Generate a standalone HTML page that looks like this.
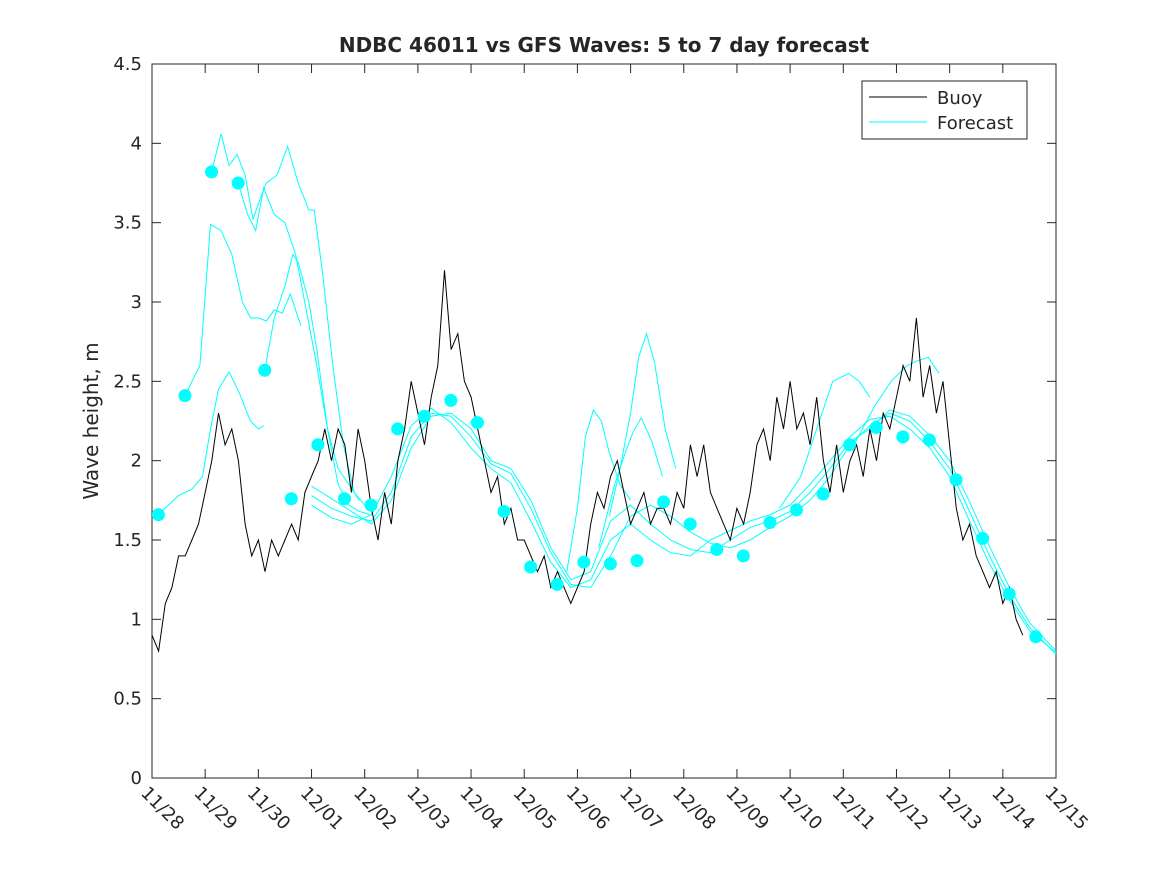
<!DOCTYPE html>
<html><head><meta charset="utf-8"><style>
body{margin:0;background:#fff;}
svg text{font-family:"DejaVu Sans","Liberation Sans",sans-serif;fill:#262626;}
</style></head><body>
<svg id="chart" width="1167" height="875" xmlns="http://www.w3.org/2000/svg">
<rect width="1167" height="875" fill="#fff"/>
<g id="plot"></g>
</svg>
<script>
const xTickLabels=["11/28","11/29","11/30","12/01","12/02","12/03","12/04","12/05","12/06","12/07","12/08","12/09","12/10","12/11","12/12","12/13","12/14","12/15"];
const yTicks=[0,0.5,1,1.5,2,2.5,3,3.5,4,4.5];
const buoyStep=0.125;
const buoyVals=[0.9,0.8,1.1,1.2,1.4,1.4,1.5,1.6,
1.8,2.0,2.3,2.1,2.2,2.0,1.6,1.4,
1.5,1.3,1.5,1.4,1.5,1.6,1.5,1.8,
1.9,2.0,2.2,2.0,2.2,2.1,1.8,2.2,
2.0,1.7,1.5,1.8,1.6,2.0,2.2,2.5,
2.3,2.1,2.4,2.6,3.2,2.7,2.8,2.5,
2.4,2.2,2.0,1.8,1.9,1.6,1.7,1.5,
1.5,1.4,1.3,1.4,1.2,1.3,1.2,1.1,
1.2,1.3,1.6,1.8,1.7,1.9,2.0,1.8,
1.6,1.7,1.8,1.6,1.7,1.7,1.6,1.8,
1.7,2.1,1.9,2.1,1.8,1.7,1.6,1.5,
1.7,1.6,1.8,2.1,2.2,2.0,2.4,2.2,
2.5,2.2,2.3,2.1,2.4,2.0,1.8,2.1,
1.8,2.0,2.1,1.9,2.2,2.0,2.3,2.2,
2.4,2.6,2.5,2.9,2.4,2.6,2.3,2.5,
2.1,1.7,1.5,1.6,1.4,1.3,1.2,1.3,
1.1,1.2,1.0,0.9];
const dotDays=[0.12,0.62,1.12,1.62,2.12,2.62,3.12,3.62,4.12,4.62,5.12,5.62,6.12,6.62,7.12,7.62,8.12,8.62,9.12,9.62,10.12,10.62,11.12,11.62,12.12,12.62,13.12,13.62,14.12,14.62,15.12,15.62,16.12,16.62];
const dotVals=[1.66,2.41,3.82,3.75,2.57,1.76,2.1,1.76,1.72,2.2,2.28,2.38,2.24,1.68,1.33,1.22,1.36,1.35,1.37,1.74,1.6,1.44,1.40,1.61,1.69,1.79,2.1,2.21,2.15,2.13,1.88,1.51,1.16,0.89];
const fcA_d=[0.12,0.5,0.75,0.95,1.1,1.25,1.45,1.65,1.85,2.0,2.1];
const fcA_v=[1.66,1.78,1.82,1.9,2.2,2.45,2.56,2.42,2.25,2.2,2.22];
const fcB_d=[0.62,0.9,1.1,1.3,1.5,1.7,1.85,2.0,2.15,2.3,2.45,2.6,2.8];
const fcB_v=[2.41,2.6,3.49,3.45,3.3,3.0,2.9,2.9,2.88,2.95,2.93,3.05,2.85];
const fcC_d=[1.12,1.3,1.45,1.6,1.75,1.9,2.0,2.15,2.35,2.55,2.75,2.95,3.05,3.2,3.4,3.6,3.8,4.0];
const fcC_v=[3.82,4.06,3.86,3.93,3.8,3.52,3.62,3.75,3.8,3.98,3.75,3.58,3.58,3.2,2.6,2.1,1.8,1.72];
const fcD_d=[1.62,1.8,1.95,2.1,2.3,2.5,2.7,2.9,3.1,3.3,3.5,3.7,3.9];
const fcD_v=[3.75,3.55,3.45,3.72,3.55,3.5,3.3,2.95,2.6,2.2,1.95,1.85,1.75];
const fcE_d=[2.12,2.3,2.5,2.65,2.75,2.95,3.1,3.3,3.5,3.7,3.9,4.1];
const fcE_v=[2.57,2.9,3.1,3.3,3.25,3.0,2.7,2.2,1.85,1.72,1.68,1.66];
const consDays=[3.0,3.375,3.75,4.125,4.5,4.875,5.25,5.625,6.0,6.375,6.75,7.125,7.5,7.875,8.25,8.625,9.0,9.375,9.75,10.125,10.5,10.875,11.25,11.625,12.0,12.375,12.75,13.125,13.5,13.875,14.25,14.625,15.0,15.375,15.75,16.125,16.5,17.0];
const consA=[1.78,1.7,1.65,1.62,1.8,2.15,2.3,2.28,2.15,1.98,1.92,1.7,1.42,1.22,1.2,1.4,1.65,1.72,1.65,1.55,1.48,1.45,1.5,1.58,1.65,1.75,1.9,2.1,2.22,2.3,2.25,2.12,1.95,1.68,1.4,1.15,0.95,0.78];
const consB=[1.72,1.64,1.6,1.66,1.9,2.22,2.33,2.24,2.08,1.95,1.86,1.62,1.36,1.2,1.25,1.5,1.6,1.5,1.42,1.4,1.5,1.56,1.62,1.66,1.72,1.85,2.0,2.15,2.26,2.28,2.2,2.08,1.9,1.62,1.35,1.12,0.93,0.79];
const consC=[1.84,1.76,1.68,1.6,1.75,2.08,2.28,2.3,2.2,2.0,1.95,1.75,1.45,1.25,1.3,1.62,1.72,1.6,1.5,1.44,1.42,1.5,1.58,1.62,1.68,1.8,1.95,2.12,2.2,2.32,2.28,2.16,2.0,1.74,1.46,1.2,0.98,0.8];
const sp1_d=[7.8,8.0,8.15,8.3,8.45,8.6,8.8,9.0];
const sp1_v=[1.3,1.7,2.15,2.32,2.25,2.05,1.85,1.75];
const sp2_d=[8.6,8.8,9.0,9.15,9.3,9.45,9.65,9.85];
const sp2_v=[1.65,1.95,2.3,2.65,2.8,2.62,2.2,1.95];
const sp3_d=[8.4,8.7,8.9,9.05,9.2,9.4,9.6];
const sp3_v=[1.45,1.85,2.05,2.18,2.27,2.12,1.9];
const sp4_d=[11.8,12.2,12.5,12.8,13.1,13.3,13.5];
const sp4_v=[1.7,1.9,2.2,2.5,2.55,2.5,2.4];
const sp5_d=[13.2,13.6,13.9,14.2,14.4,14.6,14.8];
const sp5_v=[2.1,2.35,2.5,2.6,2.63,2.65,2.55];

const X0=152,X1=1056,Y0=778,Y1=64;
const xs=d=>X0+(X1-X0)*d/17;
const ys=v=>Y0-(Y0-Y1)*v/4.5;
const NS="http://www.w3.org/2000/svg";
const g=document.getElementById('plot');
function mk(tag,attrs,parent){const e=document.createElementNS(NS,tag);for(const k in attrs)e.setAttribute(k,attrs[k]);(parent||g).appendChild(e);return e;}
function pts(d,v){return d.map((t,i)=>xs(t).toFixed(1)+','+ys(v[i]).toFixed(1)).join(' ');}

let box=mk('rect',{x:X0,y:Y1,width:X1-X0,height:Y0-Y1,fill:'none',stroke:'#262626','stroke-width':1});


xTickLabels.forEach((lab,i)=>{
  const x=xs(i);
  mk('line',{x1:x,y1:Y0,x2:x,y2:Y0-9,stroke:'#262626'});
  mk('line',{x1:x,y1:Y1,x2:x,y2:Y1+9,stroke:'#262626'});
  const t=mk('text',{x:0,y:0,'font-size':18,transform:`translate(${x-12},${Y0+16}) rotate(45)`});
  t.textContent=lab;
  
  
});
yTicks.forEach(v=>{
  const y=ys(v);
  mk('line',{x1:X0,y1:y,x2:X0+9,y2:y,stroke:'#262626'});
  mk('line',{x1:X1,y1:y,x2:X1-9,y2:y,stroke:'#262626'});
  const t=mk('text',{x:X0-10,y:y+6,'font-size':18,'text-anchor':'end'});
  t.textContent=String(v);
  
  
});
[[fcA_d,fcA_v],[fcB_d,fcB_v],[fcC_d,fcC_v],[fcD_d,fcD_v],[fcE_d,fcE_v],[consDays,consA],[consDays,consB],[consDays,consC],[sp1_d,sp1_v],[sp2_d,sp2_v],[sp3_d,sp3_v],[sp4_d,sp4_v],[sp5_d,sp5_v]].forEach(([d,v])=>{
  const l=mk('polyline',{points:pts(d,v),fill:'none',stroke:'#00ffff','stroke-width':1});
  
  
});
const buoyDays=buoyVals.map((_,i)=>i*buoyStep);
const b=mk('polyline',{points:pts(buoyDays,buoyVals),fill:'none',stroke:'#000','stroke-width':1});


dotDays.forEach((d,i)=>{
  const c=mk('circle',{cx:xs(d),cy:ys(dotVals[i]),r:6.5,fill:'#00ffff'});
  
  
});
const ti=mk('text',{x:604,y:52,'font-size':20,'font-weight':'bold','text-anchor':'middle'});
ti.textContent='NDBC 46011 vs GFS Waves: 5 to 7 day forecast';


const yl=mk('text',{x:0,y:0,'font-size':20,'text-anchor':'middle',transform:'translate(98,421) rotate(-90)'});
yl.textContent='Wave height, m';


const lg=mk('g',{});


mk('rect',{x:862,y:81,width:165,height:58,fill:'#fff',stroke:'#262626'},lg);
mk('line',{x1:869,y1:97,x2:927,y2:97,stroke:'#000'},lg);
const t1=mk('text',{x:937,y:104,'font-size':18},lg);t1.textContent='Buoy';


mk('line',{x1:869,y1:122,x2:927,y2:122,stroke:'#00ffff'},lg);
const t2=mk('text',{x:937,y:129,'font-size':18},lg);t2.textContent='Forecast';


</script>
</body></html>
